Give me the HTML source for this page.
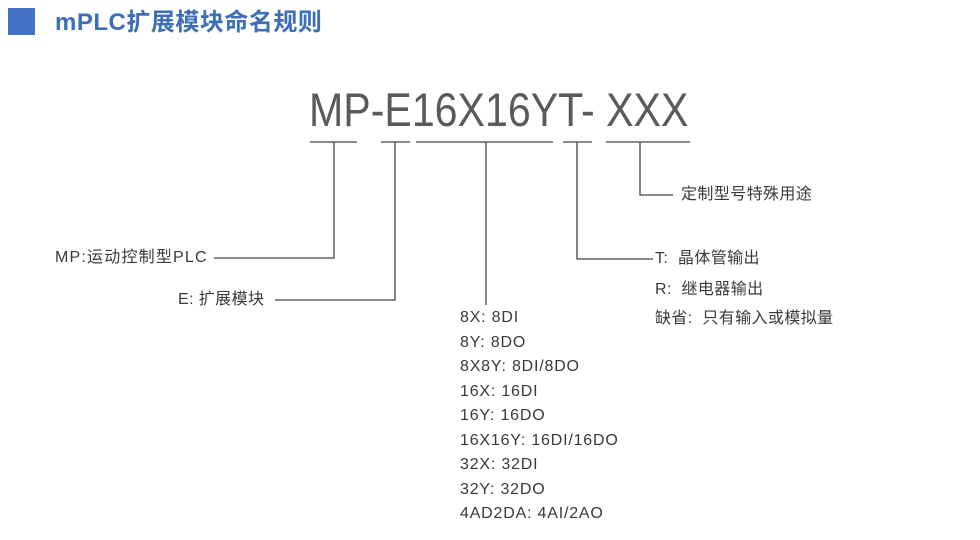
<!DOCTYPE html>
<html><head><meta charset="utf-8"><style>
body{margin:0;width:980px;height:540px;background:#fff;position:relative;overflow:hidden;font-family:"Liberation Sans","Noto Sans CJK SC",sans-serif;}
.t{position:absolute;white-space:nowrap;color:#3a3a3a;font-size:16px;line-height:20px;letter-spacing:0.4px}
svg{position:absolute;left:0;top:0}
</style></head><body>
<div style="position:absolute;left:8px;top:8px;width:27px;height:27px;background:#4472c4"></div>
<div class="t" style="left:55px;top:8px;font-size:24px;line-height:30px;color:#3d6fb6;font-weight:bold;letter-spacing:0.5px">mPLC扩展模块命名规则</div>
<div class="t" style="left:309px;top:82px;font-size:47px;line-height:56px;color:#5a5a5a;letter-spacing:0;transform:scaleX(0.875);transform-origin:0 0">MP-E16X16YT- XXX</div>
<svg width="980" height="540"><g stroke="#444" stroke-width="1.3" fill="none">
<line x1="310" y1="142" x2="357" y2="142"/><line x1="381" y1="142" x2="410" y2="142"/>
<line x1="416" y1="142" x2="553" y2="142"/><line x1="563" y1="142" x2="592" y2="142"/>
<line x1="606" y1="142" x2="690" y2="142"/>
<polyline points="334,142 334,258 214,258"/>
<polyline points="395,142 395,300 275,300"/>
<line x1="486" y1="142" x2="486" y2="305"/>
<polyline points="577,142 577,259 653,259"/>
<polyline points="640,142 640,195 673,195"/>
</g></svg>
<div class="t" style="left:55px;top:248px;letter-spacing:1.2px">MP:运动控制型PLC</div>
<div class="t" style="left:178px;top:290px">E: 扩展模块</div>
<div class="t" style="left:681px;top:185px">定制型号特殊用途</div>
<div class="t" style="left:655px;top:249px">T:&nbsp; 晶体管输出</div>
<div class="t" style="left:655px;top:280px">R:&nbsp; 继电器输出</div>
<div class="t" style="left:655px;top:309px">缺省:&nbsp; 只有输入或模拟量</div>
<div class="t" style="left:460px;top:306px;line-height:24.5px;letter-spacing:0.8px">8X: 8DI<br>8Y: 8DO<br>8X8Y: 8DI/8DO<br>16X: 16DI<br>16Y: 16DO<br>16X16Y: 16DI/16DO<br>32X: 32DI<br>32Y: 32DO<br>4AD2DA: 4AI/2AO</div>
</body></html>
